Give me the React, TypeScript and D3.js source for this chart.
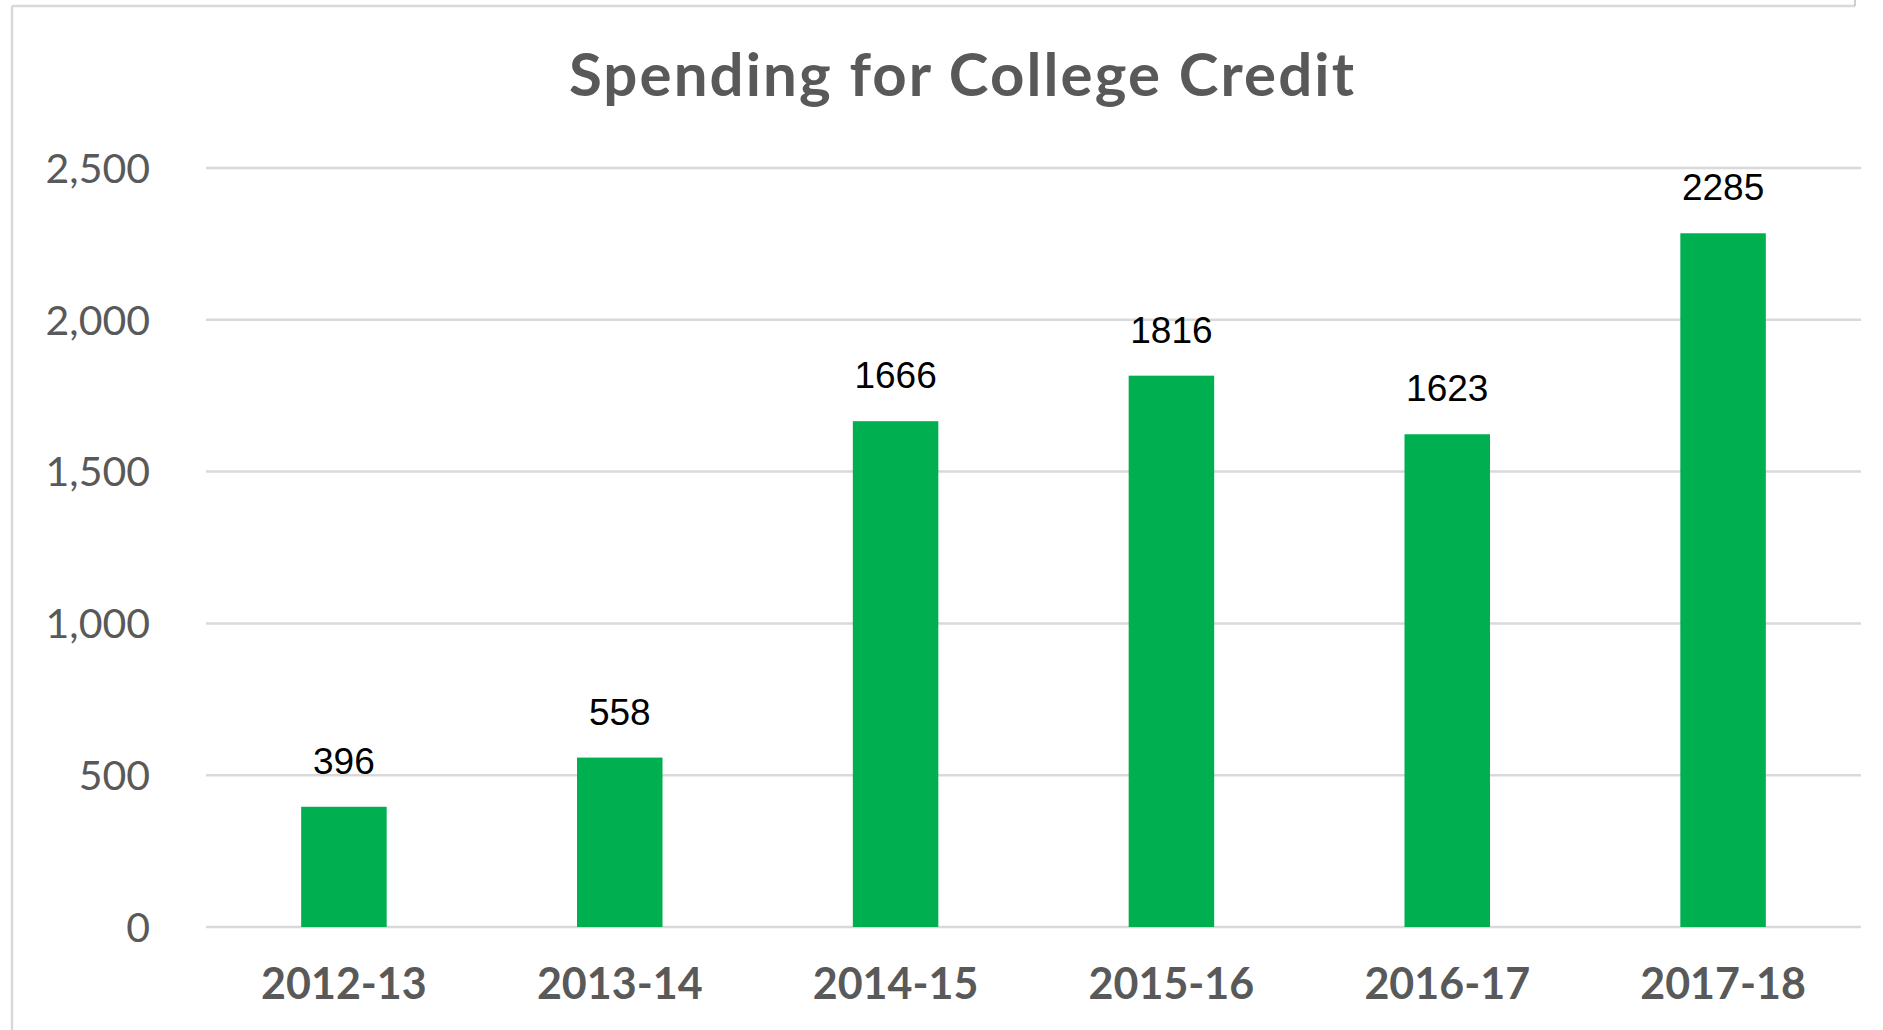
import React from "react";
import * as d3 from "d3";

const categories = ["2012-13", "2013-14", "2014-15", "2015-16", "2016-17", "2017-18"];
const values = [396, 558, 1666, 1816, 1623, 2285];
const yTicks = [0, 500, 1000, 1500, 2000, 2500];
const title = "Spending for College Credit";

const W = 1883;
const H = 1030;
const plot = { left: 206, right: 1861, top: 168, bottom: 927 };

export default function App() {
  const x = d3
    .scaleBand<string>()
    .domain(categories)
    .range([plot.left, plot.right])
    .paddingInner(0.69)
    .paddingOuter(0.345);
  const y = d3.scaleLinear().domain([0, 2500]).range([plot.bottom, plot.top]);
  const fmt = d3.format(",");
  const gray = "#595959";
  return (
    <svg
      width={W}
      height={H}
      style={{ position: "absolute", left: 0, top: 0, display: "block", background: "#fff" }}
    >
      <rect x={0} y={0} width={W} height={H} fill="#fff" />
      {/* chart border */}
      <line x1={12} y1={6} x2={1855} y2={6} stroke="#d9d9d9" strokeWidth={2.5} />
      <line x1={12} y1={6} x2={12} y2={H} stroke="#d9d9d9" strokeWidth={2.5} />
      <line x1={1855} y1={0} x2={1855} y2={6} stroke="#bfbfbf" strokeWidth={1.5} />
      <text
        x={(plot.left + plot.right) / 2 - 71}
        y={96}
        textAnchor="middle"
        fontFamily="Lato, 'Open Sans', sans-serif"
        fontWeight={700}
        fontSize={60}
        letterSpacing={2.1}
        fill={gray}
      >
        {title}
      </text>
      {yTicks.map((t) => (
        <g key={t}>
          <line x1={plot.left} x2={plot.right} y1={y(t)} y2={y(t)} stroke="#d9d9d9" strokeWidth={2.5} />
          <text
            x={150}
            y={y(t)}
            dy="0.36em"
            textAnchor="end"
            fontFamily="Lato, 'Open Sans', sans-serif"
            fontSize={41}
            fill={gray}
          >
            {fmt(t)}
          </text>
        </g>
      ))}
      {categories.map((c, i) => (
        <g key={c}>
          <rect
            x={x(c)}
            y={y(values[i])}
            width={x.bandwidth()}
            height={y(0) - y(values[i])}
            fill="#00b050"
          />
          <text
            x={(x(c) as number) + x.bandwidth() / 2}
            y={y(values[i]) - 33}
            textAnchor="middle"
            fontFamily="'Liberation Sans', Arial, sans-serif"
            fontSize={37}
            fill="#000"
          >
            {values[i]}
          </text>
          <text
            x={(x(c) as number) + x.bandwidth() / 2}
            y={999}
            textAnchor="middle"
            fontFamily="Lato, 'Open Sans', sans-serif"
            fontWeight={700}
            fontSize={43}
            fill={gray}
          >
            {c}
          </text>
        </g>
      ))}
    </svg>
  );
}
